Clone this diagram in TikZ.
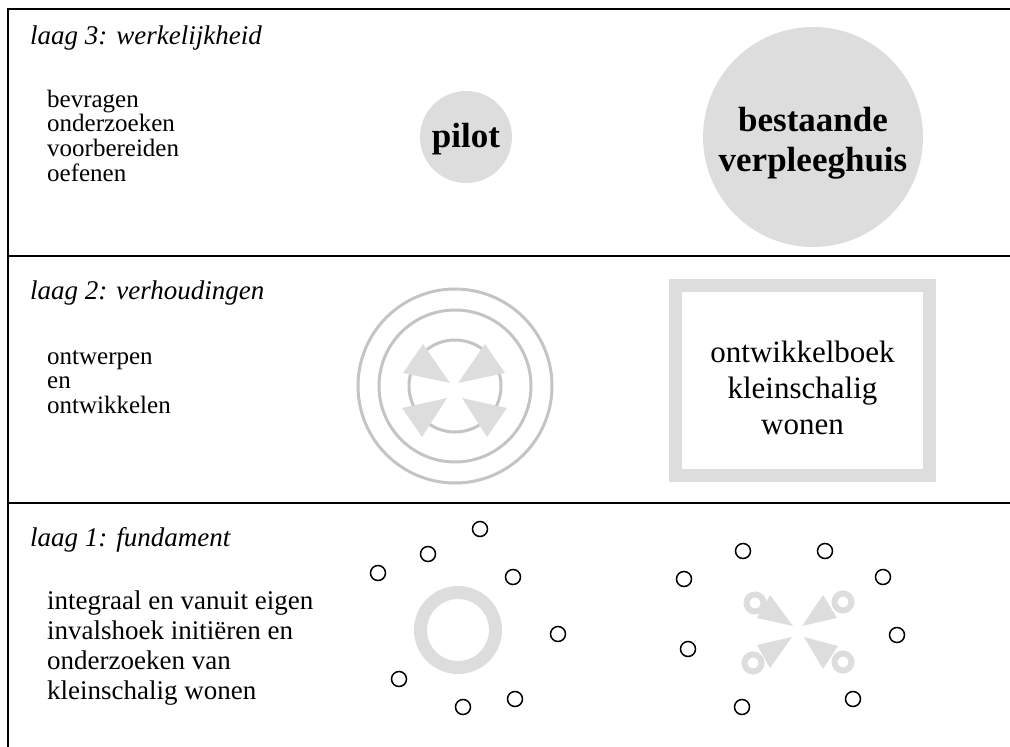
\documentclass[tikz,border=0pt]{standalone}
\usepackage{fontspec}
\setmainfont{Liberation Serif}
\usetikzlibrary{positioning}
\definecolor{vlak}{HTML}{DDDDDD}
\definecolor{ring}{HTML}{C4C4C4}
\begin{document}
\begin{tikzpicture}[x=1pt,y=-1pt,
  kop/.style={anchor=base west,inner sep=0pt,font=\fontsize{27}{31}\selectfont\itshape},
  tekst/.style={anchor=base west,inner sep=0pt,font=\fontsize{27}{30}\selectfont},
  klein/.style={anchor=base west,inner sep=0pt,font=\fontsize{25}{25}\selectfont},
  bol/.style={circle,fill=vlak,inner sep=0pt},
  vet/.style={align=center,inner sep=0pt,font=\fontsize{35}{40}\selectfont\bfseries},
  stip/.style={circle,draw,line width=1.5pt,minimum size=15pt,inner sep=0pt},
  wig/.style={fill=vlak},
  oog/.style={draw=vlak,line width=6pt}]
\useasboundingbox (0,0) rectangle (1010,747);
% kader en lagen
\draw[line width=2pt] (1010,9) -- (8,9) -- (8,747);
\draw[line width=2pt] (8,256) -- (1010,256);
\draw[line width=2pt] (8,503) -- (1010,503);
% laag 3
\node[kop] (kop3) at (30,44) {laag 3: werkelijkheid};
\foreach \regel [count=\i] in {bevragen,onderzoeken,voorbereiden,oefenen}
  \node[klein] (r3\i) at (47,{82.3+24.7*\i}) {\regel};
\node[bol,minimum size=92pt] (pilot) at (466,137) {};
\node[vet] (pilottekst) at ([yshift=-2pt]pilot.center) {pilot};
\node[bol,minimum size=220pt] (huis) at (813,137) {};
\node[vet] (huistekst) at ([yshift=-6pt]huis.center) {bestaande\\verpleeghuis};
% laag 2
\node[kop] (kop2) at (30,299) {laag 2: verhoudingen};
\foreach \regel [count=\i] in {ontwerpen,en,ontwikkelen}
  \node[klein] (r2\i) at (47,{339.3+24.7*\i}) {\regel};
\coordinate (midden) at (455,386);
\draw[ring,line width=3pt] (midden) circle (97pt) circle (76pt) circle (46pt);
\begin{scope}[shift={(midden)}]
  \fill[wig] (-32,-42) -- (-52,-13) -- (-5,-3) -- cycle;
  \fill[wig] (30,-42) -- (50,-13) -- (3,-3) -- cycle;
  \fill[wig] (-53,22) -- (-33,51) -- (-8,12) -- cycle;
  \fill[wig] (52,22) -- (32,51) -- (7,12) -- cycle;
\end{scope}
\draw[vlak,line width=13pt] (675.5,285.5) rectangle (929.5,475.5);
\node[align=center,inner sep=0pt,font=\fontsize{31}{36}\selectfont] (boek) at (802.5,388)
  {ontwikkelboek\\kleinschalig\\wonen};
% laag 1
\node[kop] (kop1) at (30,546) {laag 1: fundament};
\foreach \regel [count=\i] in {integraal en vanuit eigen,invalshoek initiëren en,onderzoeken van,kleinschalig wonen}
  \node[tekst] (r1\i) at (47,{579+30*\i}) {\regel};
\draw[vlak,line width=13pt] (458,630) circle (37.5pt);
\foreach \x/\y [count=\i] in {480/529,428/554,378/573,513/577,558/634,399/679,463/707,515/699}
  \node[stip] (a\i) at (\x,\y) {};
\coordinate (kruis) at (797,632);
\begin{scope}[shift={(kruis)}]
  \fill[wig] (-27,-37) -- (-40,-14) -- (-4,-6) -- cycle;
  \fill[wig] (26,-37) -- (40,-14) -- (5,-6) -- cycle;
  \fill[wig] (-40,13) -- (-27,36) -- (-5,5) -- cycle;
  \fill[wig] (41,14) -- (26,37) -- (7,5) -- cycle;
  \foreach \x/\y in {-42/-29,46/-30,-44/31,46/30}
    \draw[oog] (\x,\y) circle (8.5pt);
\end{scope}
\foreach \x/\y [count=\i] in {743/551,825/551,684/579,883/577,897/635,688/649,742/707,853/699}
  \node[stip] (b\i) at (\x,\y) {};
\end{tikzpicture}
\end{document}
